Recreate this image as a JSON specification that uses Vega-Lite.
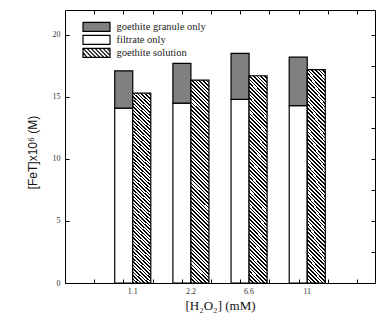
{
  "$schema": "https://vega.github.io/schema/vega-lite/v6.json",
  "width": 310,
  "height": 273,
  "autosize": {"type": "none"},
  "padding": {"left": 65, "top": 10, "right": 5, "bottom": 42},
  "config": {"view": {"stroke": "black", "strokeWidth": 1}, "font": "Liberation Serif"},
  "data": {
    "values": [
      {"conc": "1.1", "bar": "stacked", "series": "filtrate only", "value": 14.1},
      {"conc": "1.1", "bar": "stacked", "series": "goethite granule only", "value": 3.0},
      {"conc": "1.1", "bar": "solution", "series": "goethite solution", "value": 15.3},
      {"conc": "2.2", "bar": "stacked", "series": "filtrate only", "value": 14.5},
      {"conc": "2.2", "bar": "stacked", "series": "goethite granule only", "value": 3.2},
      {"conc": "2.2", "bar": "solution", "series": "goethite solution", "value": 16.35},
      {"conc": "6.6", "bar": "stacked", "series": "filtrate only", "value": 14.8},
      {"conc": "6.6", "bar": "stacked", "series": "goethite granule only", "value": 3.7},
      {"conc": "6.6", "bar": "solution", "series": "goethite solution", "value": 16.7},
      {"conc": "11", "bar": "stacked", "series": "filtrate only", "value": 14.3},
      {"conc": "11", "bar": "stacked", "series": "goethite granule only", "value": 3.9},
      {"conc": "11", "bar": "solution", "series": "goethite solution", "value": 17.2}
    ]
  },
  "layer": [
    {
      "layer": [
        {
          "transform": [{"filter": "datum.bar === 'stacked'"}],
          "mark": {"type": "bar", "stroke": "black", "strokeWidth": 1.2},
          "encoding": {
            "x": {
              "field": "conc", "type": "nominal", "sort": ["1.1", "2.2", "6.6", "11"],
              "scale": {"domain": ["1.1", "2.2", "6.6", "11"], "paddingInner": 0.38, "paddingOuter": 0.855},
              "axis": {"orient": "bottom", "ticks": false, "domain": false, "grid": false, "labelAngle": 0,
                "labelFont": "Liberation Serif", "labelFontSize": 8, "labelColor": "#333", "labelPadding": 4,
                "title": "[H₂O₂] (mM)", "titleFont": "Liberation Serif", "titleFontSize": 13, "titleFontWeight": "normal", "titleColor": "#111", "titlePadding": 4}
            },
            "xOffset": {"field": "bar", "type": "nominal", "scale": {"domain": ["stacked", "solution"], "paddingInner": 0, "paddingOuter": 0}},
            "y": {
              "field": "value", "type": "quantitative", "stack": "zero",
              "scale": {"domain": [0, 22], "nice": false},
              "axis": {"orient": "left", "values": [0, 2.5, 5, 7.5, 10, 12.5, 15, 17.5, 20],
                "labelExpr": "datum.value % 5 === 0 ? datum.label : ''",
                "tickSize": -4, "tickColor": "black", "domain": false, "grid": false,
                "labelFont": "Liberation Serif", "labelFontSize": 8, "labelColor": "#333", "labelPadding": 9,
                "title": "[FeT]x10⁶ (M)", "titleFont": "Liberation Sans", "titleFontSize": 12, "titleFontWeight": "normal", "titleColor": "#111", "titlePadding": 13, "titleY": 142}
            },
            "fill": {
              "field": "series", "type": "nominal",
              "scale": {"domain": ["goethite granule only", "filtrate only", "goethite solution"], "range": ["#808080", "#ffffff", "#ffffff"]},
              "legend": {
                "orient": "none", "legendX": 25.5, "legendY": 10.8, "title": null, "padding": 0,
                "symbolType": "M-2.7,-0.9H2.7V0.9H-2.7Z",
                "symbolSize": 100, "rowPadding": -1.9, "labelFont": "Liberation Serif", "labelFontSize": 10.5,
                "labelColor": "#222", "labelOffset": 14, "labelLimit": 300,
                "symbolStrokeColor": "black", "symbolStrokeWidth": 1.2,
                "encode": {
                  "symbols": {
                    "update": {
                      "shape": {"signal": "datum.value === 'goethite solution' ? 'M-2.7,-0.9H2.7V0.9H-2.7Z M-2.7,-0.1L-1.9,0.9 M-2.7,-0.9L-0.9,0.9 M-1.9,-0.9L-0.1,0.9 M-1.1,-0.9L0.7,0.9 M-0.3,-0.9L1.5,0.9 M0.5,-0.9L2.3,0.9 M1.3,-0.9L2.7,0.5 M2.1,-0.9L2.7,-0.3' : 'M-2.7,-0.9H2.7V0.9H-2.7Z'"},
                      "stroke": {"value": "black"},
                      "strokeWidth": {"value": 1.2}
                    }
                  }
                }
              }
            },
            "order": {"field": "series", "sort": "ascending"}
          }
        },
        {
          "transform": [{"filter": "datum.bar === 'solution'"}],
          "mark": {
            "type": "bar", "stroke": "black", "strokeWidth": 1.2,
            "fill": {
              "gradient": "linear", "x1": 0, "y1": 1, "x2": 0.0958, "y2": -0.0803,
              "stops": [
                {"offset": 0, "color": "#000"}, {"offset": 0.0075, "color": "#000"}, {"offset": 0.0075, "color": "#fff"}, {"offset": 0.0167, "color": "#fff"},
                {"offset": 0.0167, "color": "#000"}, {"offset": 0.0242, "color": "#000"}, {"offset": 0.0242, "color": "#fff"}, {"offset": 0.0333, "color": "#fff"},
                {"offset": 0.0333, "color": "#000"}, {"offset": 0.0408, "color": "#000"}, {"offset": 0.0408, "color": "#fff"}, {"offset": 0.05, "color": "#fff"},
                {"offset": 0.05, "color": "#000"}, {"offset": 0.0575, "color": "#000"}, {"offset": 0.0575, "color": "#fff"}, {"offset": 0.0667, "color": "#fff"},
                {"offset": 0.0667, "color": "#000"}, {"offset": 0.0742, "color": "#000"}, {"offset": 0.0742, "color": "#fff"}, {"offset": 0.0833, "color": "#fff"},
                {"offset": 0.0833, "color": "#000"}, {"offset": 0.0908, "color": "#000"}, {"offset": 0.0908, "color": "#fff"}, {"offset": 0.1, "color": "#fff"},
                {"offset": 0.1, "color": "#000"}, {"offset": 0.1075, "color": "#000"}, {"offset": 0.1075, "color": "#fff"}, {"offset": 0.1167, "color": "#fff"},
                {"offset": 0.1167, "color": "#000"}, {"offset": 0.1242, "color": "#000"}, {"offset": 0.1242, "color": "#fff"}, {"offset": 0.1333, "color": "#fff"},
                {"offset": 0.1333, "color": "#000"}, {"offset": 0.1408, "color": "#000"}, {"offset": 0.1408, "color": "#fff"}, {"offset": 0.15, "color": "#fff"},
                {"offset": 0.15, "color": "#000"}, {"offset": 0.1575, "color": "#000"}, {"offset": 0.1575, "color": "#fff"}, {"offset": 0.1667, "color": "#fff"},
                {"offset": 0.1667, "color": "#000"}, {"offset": 0.1742, "color": "#000"}, {"offset": 0.1742, "color": "#fff"}, {"offset": 0.1833, "color": "#fff"},
                {"offset": 0.1833, "color": "#000"}, {"offset": 0.1908, "color": "#000"}, {"offset": 0.1908, "color": "#fff"}, {"offset": 0.2, "color": "#fff"},
                {"offset": 0.2, "color": "#000"}, {"offset": 0.2075, "color": "#000"}, {"offset": 0.2075, "color": "#fff"}, {"offset": 0.2167, "color": "#fff"},
                {"offset": 0.2167, "color": "#000"}, {"offset": 0.2242, "color": "#000"}, {"offset": 0.2242, "color": "#fff"}, {"offset": 0.2333, "color": "#fff"},
                {"offset": 0.2333, "color": "#000"}, {"offset": 0.2408, "color": "#000"}, {"offset": 0.2408, "color": "#fff"}, {"offset": 0.25, "color": "#fff"},
                {"offset": 0.25, "color": "#000"}, {"offset": 0.2575, "color": "#000"}, {"offset": 0.2575, "color": "#fff"}, {"offset": 0.2667, "color": "#fff"},
                {"offset": 0.2667, "color": "#000"}, {"offset": 0.2742, "color": "#000"}, {"offset": 0.2742, "color": "#fff"}, {"offset": 0.2833, "color": "#fff"},
                {"offset": 0.2833, "color": "#000"}, {"offset": 0.2908, "color": "#000"}, {"offset": 0.2908, "color": "#fff"}, {"offset": 0.3, "color": "#fff"},
                {"offset": 0.3, "color": "#000"}, {"offset": 0.3075, "color": "#000"}, {"offset": 0.3075, "color": "#fff"}, {"offset": 0.3167, "color": "#fff"},
                {"offset": 0.3167, "color": "#000"}, {"offset": 0.3242, "color": "#000"}, {"offset": 0.3242, "color": "#fff"}, {"offset": 0.3333, "color": "#fff"},
                {"offset": 0.3333, "color": "#000"}, {"offset": 0.3408, "color": "#000"}, {"offset": 0.3408, "color": "#fff"}, {"offset": 0.35, "color": "#fff"},
                {"offset": 0.35, "color": "#000"}, {"offset": 0.3575, "color": "#000"}, {"offset": 0.3575, "color": "#fff"}, {"offset": 0.3667, "color": "#fff"},
                {"offset": 0.3667, "color": "#000"}, {"offset": 0.3742, "color": "#000"}, {"offset": 0.3742, "color": "#fff"}, {"offset": 0.3833, "color": "#fff"},
                {"offset": 0.3833, "color": "#000"}, {"offset": 0.3908, "color": "#000"}, {"offset": 0.3908, "color": "#fff"}, {"offset": 0.4, "color": "#fff"},
                {"offset": 0.4, "color": "#000"}, {"offset": 0.4075, "color": "#000"}, {"offset": 0.4075, "color": "#fff"}, {"offset": 0.4167, "color": "#fff"},
                {"offset": 0.4167, "color": "#000"}, {"offset": 0.4242, "color": "#000"}, {"offset": 0.4242, "color": "#fff"}, {"offset": 0.4333, "color": "#fff"},
                {"offset": 0.4333, "color": "#000"}, {"offset": 0.4408, "color": "#000"}, {"offset": 0.4408, "color": "#fff"}, {"offset": 0.45, "color": "#fff"},
                {"offset": 0.45, "color": "#000"}, {"offset": 0.4575, "color": "#000"}, {"offset": 0.4575, "color": "#fff"}, {"offset": 0.4667, "color": "#fff"},
                {"offset": 0.4667, "color": "#000"}, {"offset": 0.4742, "color": "#000"}, {"offset": 0.4742, "color": "#fff"}, {"offset": 0.4833, "color": "#fff"},
                {"offset": 0.4833, "color": "#000"}, {"offset": 0.4908, "color": "#000"}, {"offset": 0.4908, "color": "#fff"}, {"offset": 0.5, "color": "#fff"},
                {"offset": 0.5, "color": "#000"}, {"offset": 0.5075, "color": "#000"}, {"offset": 0.5075, "color": "#fff"}, {"offset": 0.5167, "color": "#fff"},
                {"offset": 0.5167, "color": "#000"}, {"offset": 0.5242, "color": "#000"}, {"offset": 0.5242, "color": "#fff"}, {"offset": 0.5333, "color": "#fff"},
                {"offset": 0.5333, "color": "#000"}, {"offset": 0.5408, "color": "#000"}, {"offset": 0.5408, "color": "#fff"}, {"offset": 0.55, "color": "#fff"},
                {"offset": 0.55, "color": "#000"}, {"offset": 0.5575, "color": "#000"}, {"offset": 0.5575, "color": "#fff"}, {"offset": 0.5667, "color": "#fff"},
                {"offset": 0.5667, "color": "#000"}, {"offset": 0.5742, "color": "#000"}, {"offset": 0.5742, "color": "#fff"}, {"offset": 0.5833, "color": "#fff"},
                {"offset": 0.5833, "color": "#000"}, {"offset": 0.5908, "color": "#000"}, {"offset": 0.5908, "color": "#fff"}, {"offset": 0.6, "color": "#fff"},
                {"offset": 0.6, "color": "#000"}, {"offset": 0.6075, "color": "#000"}, {"offset": 0.6075, "color": "#fff"}, {"offset": 0.6167, "color": "#fff"},
                {"offset": 0.6167, "color": "#000"}, {"offset": 0.6242, "color": "#000"}, {"offset": 0.6242, "color": "#fff"}, {"offset": 0.6333, "color": "#fff"},
                {"offset": 0.6333, "color": "#000"}, {"offset": 0.6408, "color": "#000"}, {"offset": 0.6408, "color": "#fff"}, {"offset": 0.65, "color": "#fff"},
                {"offset": 0.65, "color": "#000"}, {"offset": 0.6575, "color": "#000"}, {"offset": 0.6575, "color": "#fff"}, {"offset": 0.6667, "color": "#fff"},
                {"offset": 0.6667, "color": "#000"}, {"offset": 0.6742, "color": "#000"}, {"offset": 0.6742, "color": "#fff"}, {"offset": 0.6833, "color": "#fff"},
                {"offset": 0.6833, "color": "#000"}, {"offset": 0.6908, "color": "#000"}, {"offset": 0.6908, "color": "#fff"}, {"offset": 0.7, "color": "#fff"},
                {"offset": 0.7, "color": "#000"}, {"offset": 0.7075, "color": "#000"}, {"offset": 0.7075, "color": "#fff"}, {"offset": 0.7167, "color": "#fff"},
                {"offset": 0.7167, "color": "#000"}, {"offset": 0.7242, "color": "#000"}, {"offset": 0.7242, "color": "#fff"}, {"offset": 0.7333, "color": "#fff"},
                {"offset": 0.7333, "color": "#000"}, {"offset": 0.7408, "color": "#000"}, {"offset": 0.7408, "color": "#fff"}, {"offset": 0.75, "color": "#fff"},
                {"offset": 0.75, "color": "#000"}, {"offset": 0.7575, "color": "#000"}, {"offset": 0.7575, "color": "#fff"}, {"offset": 0.7667, "color": "#fff"},
                {"offset": 0.7667, "color": "#000"}, {"offset": 0.7742, "color": "#000"}, {"offset": 0.7742, "color": "#fff"}, {"offset": 0.7833, "color": "#fff"},
                {"offset": 0.7833, "color": "#000"}, {"offset": 0.7908, "color": "#000"}, {"offset": 0.7908, "color": "#fff"}, {"offset": 0.8, "color": "#fff"},
                {"offset": 0.8, "color": "#000"}, {"offset": 0.8075, "color": "#000"}, {"offset": 0.8075, "color": "#fff"}, {"offset": 0.8167, "color": "#fff"},
                {"offset": 0.8167, "color": "#000"}, {"offset": 0.8242, "color": "#000"}, {"offset": 0.8242, "color": "#fff"}, {"offset": 0.8333, "color": "#fff"},
                {"offset": 0.8333, "color": "#000"}, {"offset": 0.8408, "color": "#000"}, {"offset": 0.8408, "color": "#fff"}, {"offset": 0.85, "color": "#fff"},
                {"offset": 0.85, "color": "#000"}, {"offset": 0.8575, "color": "#000"}, {"offset": 0.8575, "color": "#fff"}, {"offset": 0.8667, "color": "#fff"},
                {"offset": 0.8667, "color": "#000"}, {"offset": 0.8742, "color": "#000"}, {"offset": 0.8742, "color": "#fff"}, {"offset": 0.8833, "color": "#fff"},
                {"offset": 0.8833, "color": "#000"}, {"offset": 0.8908, "color": "#000"}, {"offset": 0.8908, "color": "#fff"}, {"offset": 0.9, "color": "#fff"},
                {"offset": 0.9, "color": "#000"}, {"offset": 0.9075, "color": "#000"}, {"offset": 0.9075, "color": "#fff"}, {"offset": 0.9167, "color": "#fff"},
                {"offset": 0.9167, "color": "#000"}, {"offset": 0.9242, "color": "#000"}, {"offset": 0.9242, "color": "#fff"}, {"offset": 0.9333, "color": "#fff"},
                {"offset": 0.9333, "color": "#000"}, {"offset": 0.9408, "color": "#000"}, {"offset": 0.9408, "color": "#fff"}, {"offset": 0.95, "color": "#fff"},
                {"offset": 0.95, "color": "#000"}, {"offset": 0.9575, "color": "#000"}, {"offset": 0.9575, "color": "#fff"}, {"offset": 0.9667, "color": "#fff"},
                {"offset": 0.9667, "color": "#000"}, {"offset": 0.9742, "color": "#000"}, {"offset": 0.9742, "color": "#fff"}, {"offset": 0.9833, "color": "#fff"},
                {"offset": 0.9833, "color": "#000"}, {"offset": 0.9908, "color": "#000"}, {"offset": 0.9908, "color": "#fff"}, {"offset": 1, "color": "#fff"}
              ]
            }
          },
          "encoding": {
            "x": {"field": "conc", "type": "nominal", "sort": ["1.1", "2.2", "6.6", "11"], "title": "[H₂O₂] (mM)",
              "scale": {"domain": ["1.1", "2.2", "6.6", "11"], "paddingInner": 0.38, "paddingOuter": 0.855}},
            "xOffset": {"field": "bar", "type": "nominal", "scale": {"domain": ["stacked", "solution"], "paddingInner": 0, "paddingOuter": 0}},
            "y": {"field": "value", "type": "quantitative", "title": "[FeT]x10⁶ (M)", "scale": {"domain": [0, 22], "nice": false}}
          }
        }
      ]
    },
    {
      "mark": {"type": "point", "opacity": 0},
      "encoding": {
        "x": {"datum": 1, "type": "quantitative", "scale": {"domain": [0, 10.62], "nice": false, "zero": false},
          "axis": {"orient": "top", "values": [1, 2, 3, 4, 5, 6, 7, 8, 9, 10], "labels": false, "domain": false, "grid": false,
            "tickSize": -4, "tickColor": "black", "title": null, "zindex": 1}},
        "y": {"datum": 1, "type": "quantitative", "scale": {"domain": [0, 22], "nice": false},
          "axis": {"orient": "right", "values": [2.5, 5, 7.5, 10, 12.5, 15, 17.5, 20], "labels": false, "domain": false, "grid": false,
            "tickSize": -4, "tickColor": "black", "title": null, "zindex": 1}}
      }
    },
    {
      "mark": {"type": "point", "opacity": 0},
      "encoding": {
        "x": {"datum": 1, "type": "quantitative", "scale": {"domain": [0, 10.62], "nice": false, "zero": false},
          "axis": {"orient": "bottom", "values": [1, 2, 3, 4, 5, 6, 7, 8, 9, 10], "labels": false, "domain": false, "grid": false,
            "tickSize": -4, "tickColor": "black", "title": null, "zindex": 1}}
      }
    }
  ],
  "resolve": {"scale": {"x": "independent", "y": "independent"}, "axis": {"x": "independent", "y": "independent"}}
}
